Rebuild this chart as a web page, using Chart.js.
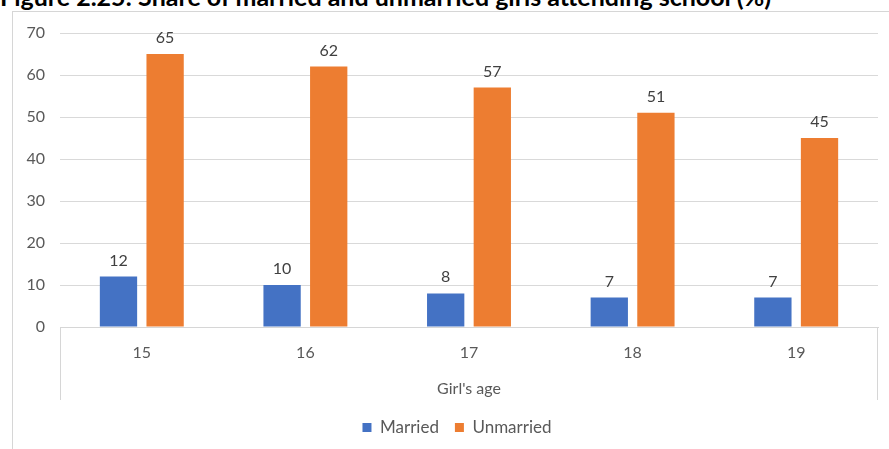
<!DOCTYPE html>
<html>
<head>
<meta charset="utf-8">
<script src="https://cdn.jsdelivr.net/npm/chart.js@4.4.1/dist/chart.umd.min.js"></script>
<style>
    html, body { margin: 0; padding: 0; background: #fff; }
    #wrap { position: relative; width: 889px; height: 449px; overflow: hidden; }
    #marco { position: absolute; left: 12px; top: 11px; width: 900px; height: 460px;
             border-left: 1px solid #d6d6d6; border-top: 1px solid #d6d6d6; }
    #titulo { position: absolute; left: 0; top: -16px; margin: 0; white-space: nowrap;
              font: bold 25px Lato, "Liberation Sans", sans-serif; line-height: 25px; color: #000; }
    #grafica { position: absolute; left: 0; top: 0; }
</style>
</head>
<body>
<div id="wrap">
    <div id="marco"></div>
    <div id="titulo">Figure 2.25: Share of married and unmarried girls attending school (%)</div>
    <canvas id="grafica" width="889" height="449"></canvas>
</div>
<script>
// edades y porcentajes
const edades = ['15', '16', '17', '18', '19'];
const casadas = [12, 10, 8, 7, 7];
const solteras = [65, 62, 57, 51, 45];
const ticksY = [0, 10, 20, 30, 40, 50, 60, 70];

const gris = '#595959';
const fuente = 'Lato, "Liberation Sans", sans-serif';

// etiquetas encima de cada barra
const etiquetas = {
    id: 'etiquetas',
    afterDatasetsDraw(chart) 
    {
        const ctx = chart.ctx;
        ctx.save();
        ctx.font = '16px ' + fuente;
        ctx.fillStyle = '#404040';
        ctx.textAlign = 'center';
        ctx.textBaseline = 'alphabetic';
        chart.data.datasets.forEach((ds, i) => {
            chart.getDatasetMeta(i).data.forEach((bar, j) => {
                ctx.fillText(ds.data[j], bar.x, bar.y - 11);
            });
        });
        ctx.restore();
    }
};

// lineas laterales de la caja del eje x, y leyenda un poco a la derecha
const cajaEjeX = {
    id: 'cajaEjeX',
    afterLayout(chart) 
    {
        chart.legend.left += 12;
        chart.legend.right += 12;
    },
    afterDraw(chart) 
    {
        const ctx = chart.ctx;
        const a = chart.chartArea;
        ctx.save();
        ctx.strokeStyle = '#d6d6d6';
        ctx.lineWidth = 1;
        ctx.beginPath();
        ctx.moveTo(Math.round(a.left) + 0.5, a.bottom);
        ctx.lineTo(Math.round(a.left) + 0.5, a.bottom + 73);
        ctx.moveTo(Math.round(a.right) - 0.5, a.bottom);
        ctx.lineTo(Math.round(a.right) - 0.5, a.bottom + 73);
        ctx.stroke();
        ctx.restore();
    }
};

new Chart(document.getElementById('grafica'), {
    type: 'bar',
    data: {
        labels: edades,
        datasets: [
            {
                label: 'Married',
                data: casadas,
                backgroundColor: '#4472C4',
                categoryPercentage: 0.57,
                barPercentage: 0.8
            },
            {
                label: 'Unmarried',
                data: solteras,
                backgroundColor: '#ED7D31',
                categoryPercentage: 0.57,
                barPercentage: 0.8
            }
        ]
    },
    options: {
        responsive: false,
        animation: false,
        layout: { padding: { left: 12, right: 11, top: 33, bottom: 3 } },
        plugins: {
            title: { display: false },
            tooltip: { enabled: false },
            legend: {
                position: 'bottom',
                labels: {
                    boxWidth: 9,
                    boxHeight: 9,
                    padding: 16,
                    color: gris,
                    font: { family: fuente, size: 17 }
                }
            }
        },
        scales: {
            x: {
                grid: { display: false, drawTicks: false },
                border: { display: true, color: '#d6d6d6' },
                ticks: { color: gris, padding: 16, font: { family: fuente, size: 16 } },
                title: {
                    display: true,
                    text: "Girl's age",
                    color: gris,
                    font: { family: fuente, size: 16 },
                    padding: { top: 10, bottom: 5 }
                },
                afterFit(scale) { scale.height = 76; }
            },
            y: {
                min: 0,
                max: 70,
                afterBuildTicks(scale) { scale.ticks = ticksY.map(v => ({ value: v })); },
                grid: { color: '#d9d9d9', drawTicks: false },
                border: { display: false },
                ticks: { color: gris, padding: 15, font: { family: fuente, size: 16 } },
                afterFit(scale) { scale.width = 48; }
            }
        }
    },
    plugins: [etiquetas, cajaEjeX]
});
</script>
</body>
</html>
